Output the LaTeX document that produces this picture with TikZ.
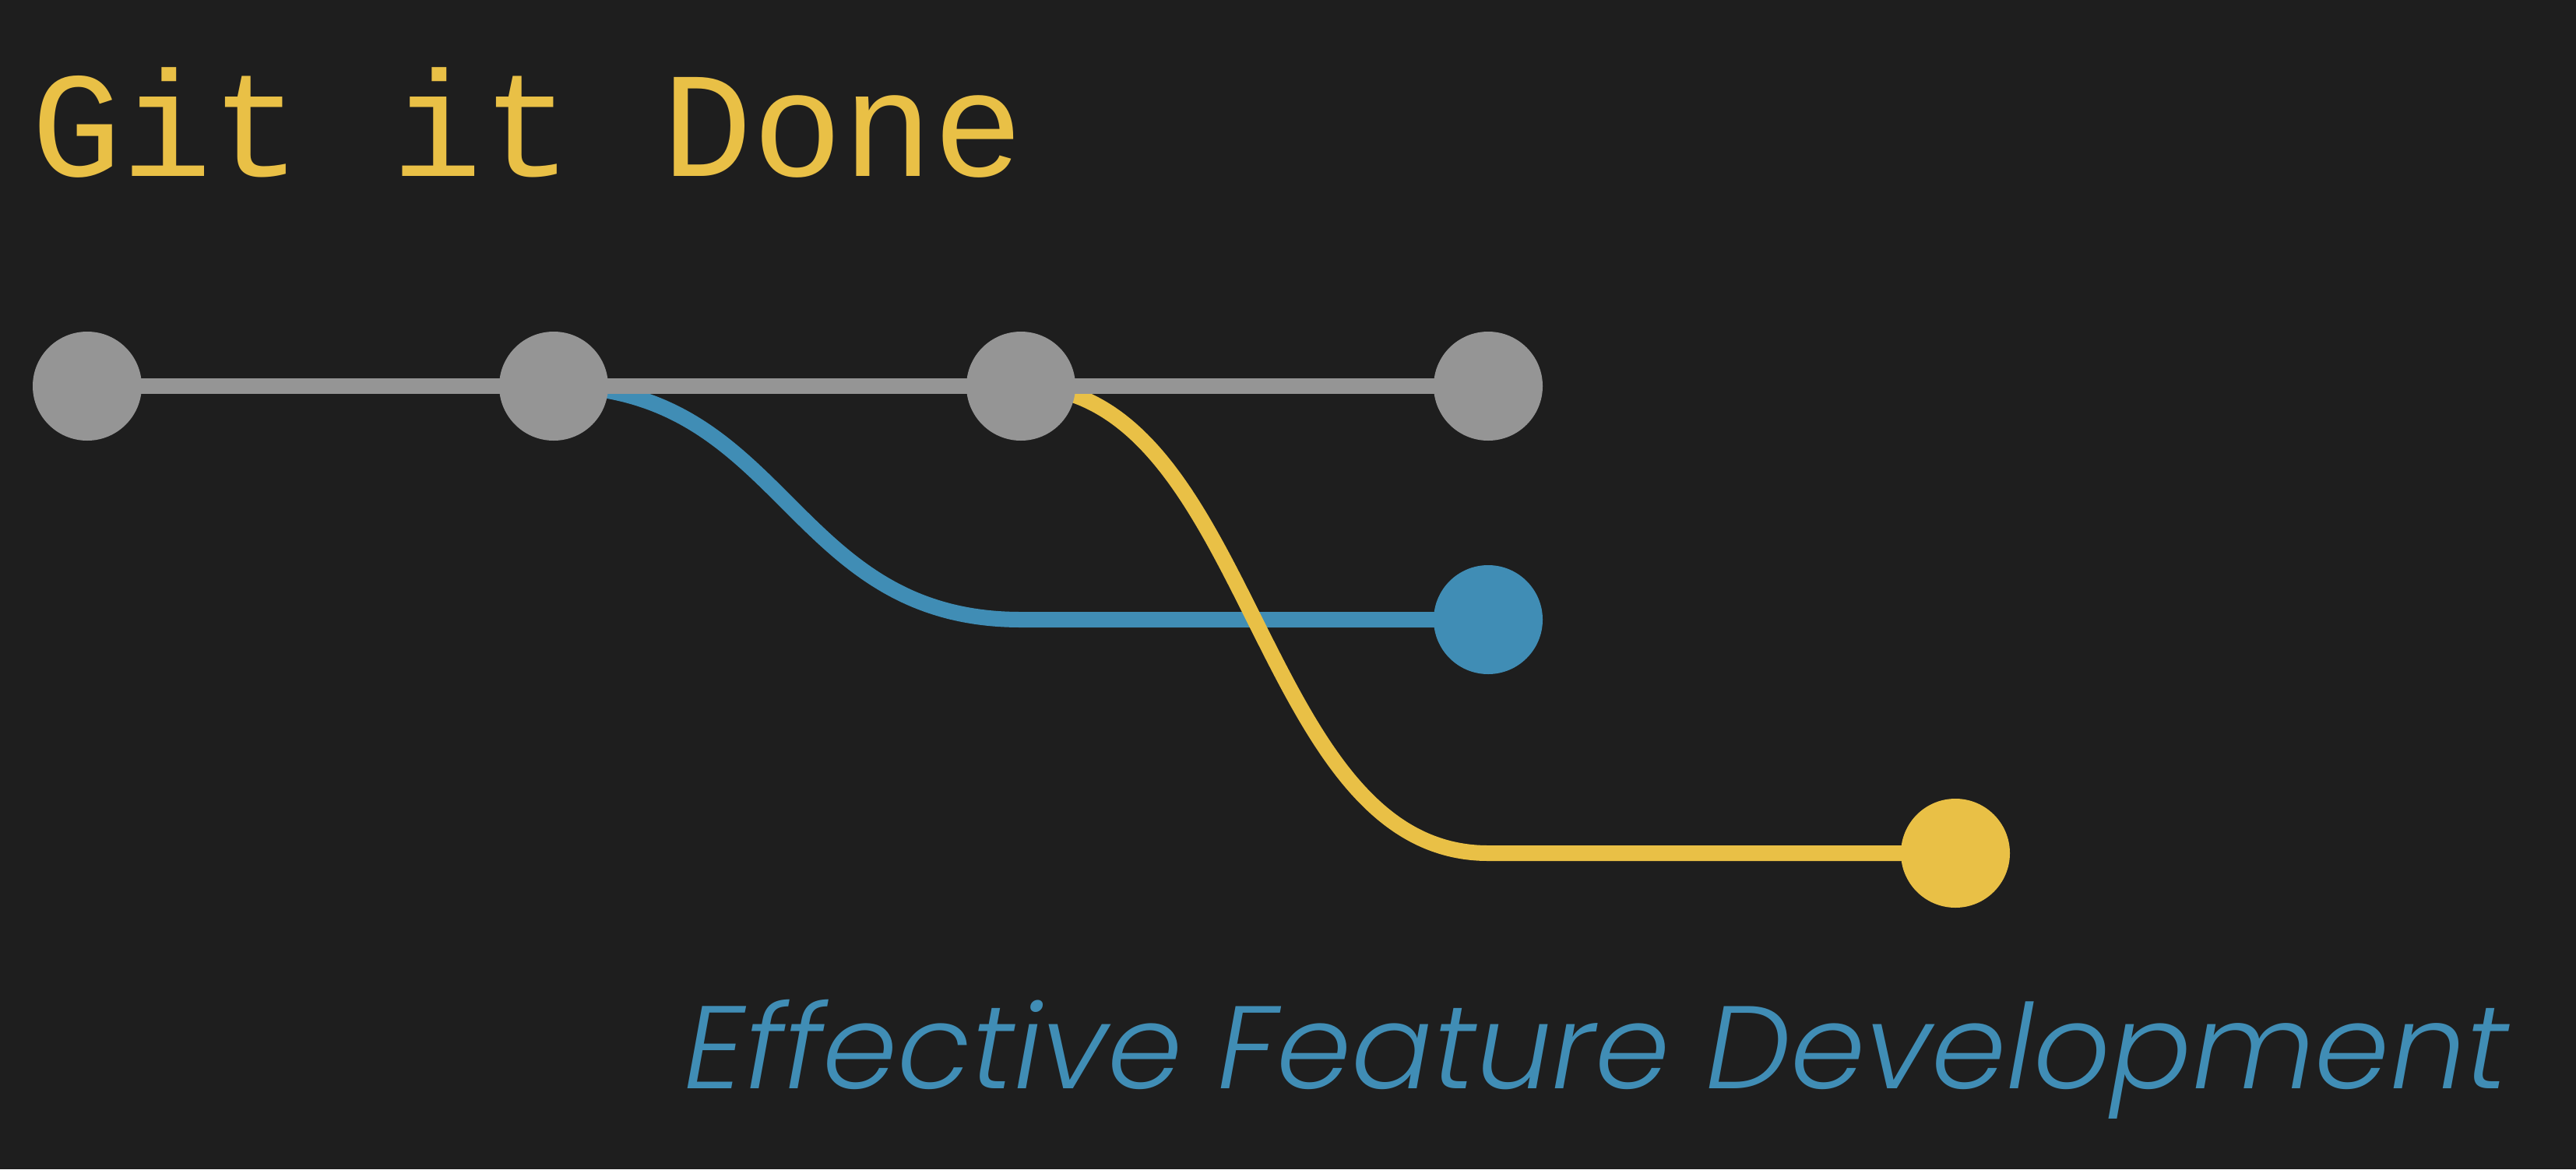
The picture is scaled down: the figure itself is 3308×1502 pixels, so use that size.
\documentclass[tikz,border=0pt]{standalone}
\usepackage{fontspec}
\usetikzlibrary{backgrounds}
\newfontfamily\titlefont{Liberation Mono}
\newfontfamily\subfont{Poppins Light Italic}[FakeStretch=1.023]
\definecolor{canvas}{HTML}{1E1E1E}
\definecolor{maingray}{HTML}{959595}
\definecolor{featblue}{HTML}{408DB5}
\definecolor{featyellow}{HTML}{E9C046}
\begin{document}
\begin{tikzpicture}[x=1pt,y=-1pt,
  commit/.style={circle,minimum size=140pt,inner sep=0pt,draw=none},
  branch/.style={line width=20pt}]
\useasboundingbox (0,0) rectangle (3308,1502);

% commits
\node[commit,fill=maingray] (c1) at (112,496) {};
\node[commit,fill=maingray] (c2) at (711,496) {};
\node[commit,fill=maingray] (c3) at (1311,496) {};
\node[commit,fill=maingray] (c4) at (1911,496) {};
\node[commit,fill=featblue] (fb) at (1911,796) {};
\node[commit,fill=featyellow] (fy) at (2511,1096) {};
\coordinate (bturn) at (1311,796);
\coordinate (yturn) at (1911,1096);

\begin{scope}[on background layer]
  \fill[canvas] (0,0) rectangle (3308,1502);
  % feature branches
  \draw[branch,featblue] (c2.center) .. controls (1011,496) and (1011,796) .. (bturn) -- (fb.center);
  \draw[branch,featyellow] (c3.center) .. controls (1611,496) and (1611,1096) .. (yturn) -- (fy.center);
  % main line
  \draw[branch,maingray] (c1.center) -- (c4.center);
\end{scope}

% texts
\node[anchor=base west,inner sep=0pt,text=featyellow,font=\titlefont\fontsize{193}{200}\selectfont] (title) at (40,226) {Git it Done};
\node[anchor=base east,inner sep=0pt,text=featblue,font=\subfont\fontsize{151}{160}\selectfont] (subtitle) at (3222,1398) {Effective Feature Development};
\end{tikzpicture}
\end{document}
